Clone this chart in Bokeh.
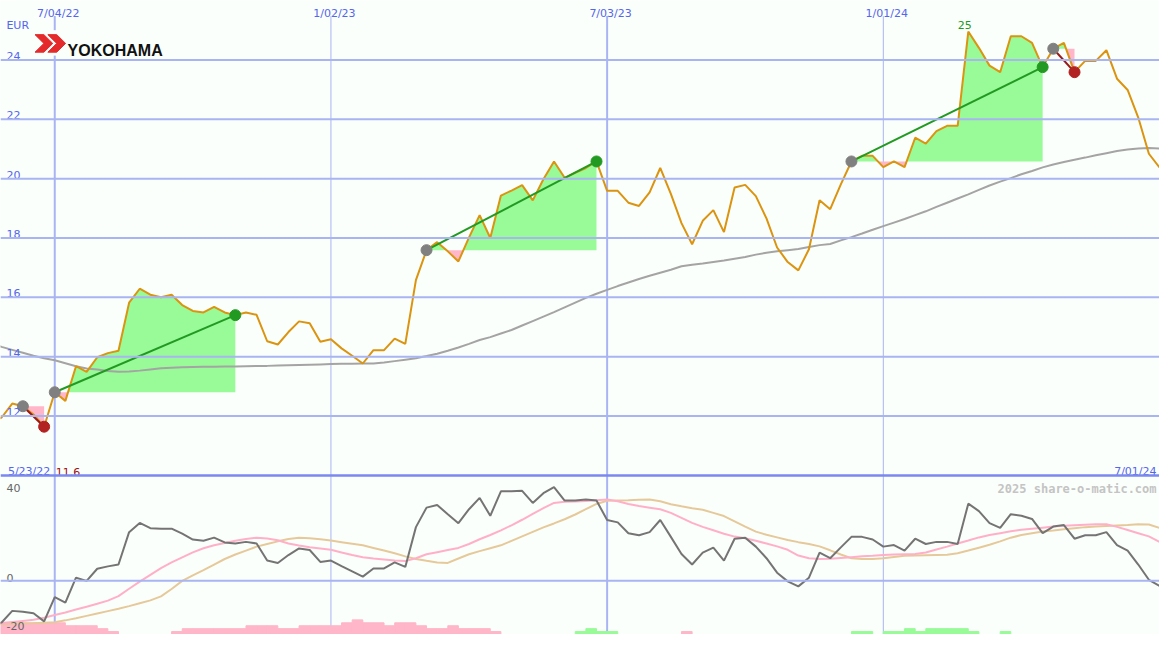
import numpy as np
from bokeh.plotting import figure
from bokeh.models import Span, Range1d, ColumnDataSource
from bokeh.embed import file_html
from bokeh.resources import INLINE
from bokeh.core.properties import value

# ---------------- data (weekly, week index relative to 7/04/22) ----------------
weeks = list(range(-6, 105))

price = [11.80, 11.95, 12.42, 12.33, 12.05, 11.64, 12.80, 12.51, 13.68, 13.49,
         13.98, 14.12, 14.20, 15.82, 16.29, 16.09, 16.00, 16.09, 15.74, 15.54,
         15.49, 15.68, 15.49, 15.40, 15.49, 15.41, 14.52, 14.41, 14.83, 15.19,
         15.13, 14.50, 14.59, 14.28, 14.03, 13.77, 14.22, 14.22, 14.61, 14.43,
         16.58, 17.59, 17.86, 17.55, 17.21, 18.02, 18.77, 18.00, 19.43, 19.60,
         19.78, 19.27, 19.98, 20.58, 20.03, 20.20, 20.36, 20.58, 19.59, 19.59,
         19.19, 19.08, 19.54, 20.36, 19.49, 18.50, 17.79, 18.58, 18.94, 18.20,
         19.70, 19.79, 19.41, 18.66, 17.68, 17.19, 16.91, 17.62, 19.27, 18.97,
         19.81, 20.58, 20.77, 20.77, 20.39, 20.58, 20.39, 21.38, 21.18, 21.60,
         21.78, 21.78, 24.96, 24.41, 23.81, 23.59, 24.80, 24.80, 24.58, 23.76,
         24.38, 24.58, 23.59, 23.97, 23.97, 24.33, 23.37, 22.99, 22.06, 20.84,
         20.38]

moving_avg = [14.45, 14.33, 14.23, 14.13, 14.03, 13.95, 13.88, 13.78, 13.68, 13.60,
              13.57, 13.52, 13.49, 13.50, 13.53, 13.57, 13.61, 13.63, 13.64, 13.65,
              13.66, 13.66, 13.67, 13.67, 13.68, 13.69, 13.69, 13.70, 13.71, 13.72,
              13.73, 13.74, 13.75, 13.76, 13.76, 13.77, 13.77, 13.80, 13.85, 13.90,
              13.95, 14.02, 14.10, 14.20, 14.31, 14.43, 14.56, 14.66, 14.78, 14.90,
              15.05, 15.20, 15.35, 15.50, 15.66, 15.82, 15.98, 16.12, 16.25, 16.38,
              16.50, 16.62, 16.73, 16.83, 16.93, 17.05, 17.10, 17.14, 17.19, 17.24,
              17.30, 17.36, 17.44, 17.50, 17.55, 17.59, 17.63, 17.70, 17.76, 17.80,
              17.92, 18.03, 18.15, 18.28, 18.40, 18.52, 18.64, 18.77, 18.90, 19.05,
              19.19, 19.33, 19.47, 19.62, 19.77, 19.90, 20.02, 20.15, 20.26, 20.38,
              20.48, 20.56, 20.64, 20.71, 20.79, 20.86, 20.93, 20.98, 21.02, 21.03,
              21.02]

momentum = [-16.5, -15.8, -11.4, -11.7, -12.3, -15.4, -6.2, -8.3, 1.2, 0.0,
            4.6, 5.5, 6.2, 18.5, 22.0, 20.0, 19.8, 19.8, 17.9, 15.7,
            15.2, 16.4, 14.6, 14.2, 14.8, 14.2, 7.7, 6.8, 9.8, 12.3,
            11.7, 7.2, 7.7, 5.6, 3.6, 1.6, 4.7, 4.7, 7.0, 5.3,
            20.4, 27.8, 28.8, 25.3, 21.9, 27.2, 31.5, 24.7, 34.0, 34.0,
            34.2, 29.6, 33.3, 35.6, 30.5, 30.5, 30.9, 30.5, 23.1, 22.2,
            18.1, 17.3, 18.5, 23.1, 16.7, 10.2, 6.2, 10.7, 12.6, 7.7,
            16.0, 16.4, 13.0, 8.6, 3.1, -0.2, -2.1, 1.2, 10.7, 8.6,
            12.7, 16.7, 16.7, 15.7, 13.0, 13.6, 11.5, 16.0, 14.0, 14.8,
            14.8, 14.0, 29.3, 26.5, 21.9, 20.1, 25.3, 24.7, 23.5, 18.1,
            20.6, 21.2, 16.0, 17.3, 17.3, 18.5, 13.6, 11.5, 6.2, 0.4,
            -1.9]

signal_fast = [-16.5, -16.0, -15.6, -15.2, -14.8, -14.0, -13.0, -12.0, -10.9, -9.8,
               -8.7, -7.5, -5.8, -3.0, -0.3, 2.3, 4.8, 7.0, 8.9, 10.8,
               12.4, 13.5, 14.4, 15.2, 15.9, 16.4, 16.1, 15.4, 14.2, 13.4,
               12.8, 12.3, 11.8, 10.8, 9.8, 9.0, 8.5, 8.1, 7.7, 7.5,
               8.6, 10.1, 10.9, 11.7, 12.5, 14.0, 15.8, 17.4, 19.2, 21.1,
               23.2, 25.4, 27.6, 29.6, 30.0, 30.1, 30.3, 30.6, 30.9, 30.2,
               29.2, 28.4, 27.8, 27.2, 25.8, 23.9, 22.0, 20.5, 19.2, 17.9,
               16.8, 16.2, 15.2, 14.2, 13.1, 11.8, 9.6, 8.6, 8.3, 8.4,
               8.7, 9.0, 9.3, 9.5, 9.8, 10.0, 10.1, 10.2, 10.8, 11.9,
               13.0, 14.2, 15.3, 16.5, 17.4, 18.1, 18.8, 19.4, 19.8, 20.2,
               20.6, 20.9, 21.1, 21.3, 21.5, 21.5, 20.5, 19.3, 18.1, 16.9,
               14.8]

signal_slow = [-16.5, -16.4, -16.3, -16.2, -16.1, -15.9, -15.7, -15.0, -14.2, -13.3,
               -12.4, -11.5, -10.6, -9.6, -8.5, -7.4, -5.9, -3.1, 0.0, 2.1,
               4.1, 6.2, 8.3, 10.0, 11.5, 13.0, 14.0, 15.0, 15.9, 16.4,
               16.2, 15.8, 15.3, 14.7, 14.1, 13.5, 12.5, 11.5, 10.5, 9.3,
               8.3, 7.6, 7.0, 6.8, 8.5, 10.1, 11.3, 12.4, 13.5, 15.2,
               16.9, 18.6, 20.3, 21.8, 23.4, 25.2, 27.2, 29.2, 30.4, 30.5,
               30.6, 30.8, 30.9, 30.2, 29.1, 28.3, 27.6, 27.0, 25.8, 24.6,
               22.6, 20.6, 18.7, 17.5, 16.5, 15.5, 14.7, 14.0, 13.1, 11.6,
               10.0, 8.6, 8.3, 8.3, 8.6, 9.1, 9.5, 9.6, 9.7, 9.8,
               9.9, 10.5, 11.5, 12.6, 13.7, 15.0, 16.4, 17.4, 18.1, 18.7,
               19.1, 19.6, 20.0, 20.4, 20.6, 20.8, 21.0, 21.2, 21.5, 21.4,
               20.1]

# histogram levels (negative = pink, positive = green)
hist_level = ([-4] * 7 + [-3] * 3 + [-2, -1] + [0] * 5 + [-1] + [-2] * 6 + [-3] * 3 +
              [-2] * 2 + [-3] * 4 + [-4, -5, -4, -4, -3, -4, -4, -3, -2, -2, -3, -2, -2, -2, -1] +
              [0] * 7 + [1, 2, 1, 1] + [0] * 6 + [-1] + [0] * 15 +
              [1, 1, 0, 1, 1, 2, 1, 2, 2, 2, 2, 1, 0, 0, 1] + [0] * 15)

# trend segments (start week, end week)
trends = [(-3, -1), (0, 17), (35, 51), (75, 93), (94, 96)]

date_weeks = [0, 26, 52, 78]
date_labels = ["7/04/22", "1/02/23", "7/03/23", "1/01/24"]
date_heavy = [True, False, True, False]
start_label = "5/23/22"
end_label = "7/01/24"
price_ticks = [12, 14, 16, 18, 20, 22, 24]
osc_ticks = [40, 0, -20]
currency = "EUR"
brand = "YOKOHAMA"
watermark = "2025 share-o-matic.com"

# ---------------- geometry helpers (reference pixel -> data) ----------------
PXW = 280.0 / 26.0          # px per week
PXE = 365.0 / 12.0          # px per EUR
PXO = 2.7                   # px per oscillator unit


def X(px):
    return (px - 55.0) / PXW


def Y(py):
    return 24.0 + (61.0 - py) / PXE


def Y2(py):
    return (595.0 - py) / PXO


W, H = 1159, 634

BG = "#FBFFFB"
GRID = "#A9B5F2"
SEP = "#7A88F0"
BLUE = "#5566EE"
ORANGE = "#DB9410"
MA_GRAY = "#A4A4A4"
GREEN_FILL = "#98FB98"
PINK_FILL = "#FFB6C8"
GREEN = "#229A22"
DARKRED = "#9A1A1A"
RED_DOT = "#B22222"
FONT = "DejaVu Sans"
OSC = "osc"

p = figure(width=W, height=H, x_range=Range1d(X(0), X(1175)), y_range=Range1d(Y(650), Y(0)),
           output_backend="svg", toolbar_location=None,
           x_axis_location=None, y_axis_location=None, min_border=0,
           background_fill_color=BG, border_fill_color=BG, outline_line_color=None)
p.grid.visible = False
p.extra_y_ranges = {OSC: Range1d(Y2(650), Y2(0))}


def txt(x, y, s, color, size="11px", align="left", font=FONT, style="normal", rng="default"):
    p.text(x=[x], y=[y], text=[s], text_color=color, text_font=value(font),
           text_font_size=size, text_align=align, text_baseline="alphabetic",
           text_font_style=style, y_range_name=rng)


def crossings(xs, ys, base):
    ox, oy = [xs[0]], [ys[0]]
    for i in range(1, len(xs)):
        a, b = ys[i - 1], ys[i]
        if (a - base) * (b - base) < 0:
            t = (base - a) / (b - a)
            ox.append(xs[i - 1] + t * (xs[i] - xs[i - 1]))
            oy.append(base)
        ox.append(xs[i])
        oy.append(ys[i])
    return np.array(ox), np.array(oy)


wk = np.array(weeks, dtype=float)
pr = np.array(price)
idx = {w: i for i, w in enumerate(weeks)}

# ---------------- grid ----------------
for t in price_ticks:
    p.add_layout(Span(location=t, dimension="width", line_color=GRID, line_width=2))
p.add_layout(Span(location=0, dimension="width", line_color=GRID, line_width=2, y_range_name=OSC))

vsrc = ColumnDataSource(dict(x=date_weeks, y0=[Y(650)] * 4, y1=[Y(16)] * 4,
                             lw=[2 if h else 1 for h in date_heavy]))
p.segment(x0="x", y0="y0", x1="x", y1="y1", line_width="lw", line_color=GRID, source=vsrc)

p.add_layout(Span(location=osc_ticks[0], dimension="width", line_color=SEP, line_width=2.5,
                  y_range_name=OSC))

# ---------------- price panel ----------------
for s, e in trends:
    i0, i1 = idx[s], idx[e]
    xs, ys = wk[i0:i1 + 1], pr[i0:i1 + 1]
    base = ys[0]
    fx, fy = crossings(xs, ys, base)
    p.varea(x=fx, y1=base, y2=np.maximum(fy, base), fill_color=GREEN_FILL)
    p.varea(x=fx, y1=base, y2=np.minimum(fy, base), fill_color=PINK_FILL)

p.line(wk, moving_avg, line_color=MA_GRAY, line_width=2)
p.line(wk, pr, line_color=ORANGE, line_width=2)

for s, e in trends:
    up = price[idx[e]] >= price[idx[s]]
    p.line([s, e], [price[idx[s]], price[idx[e]]], line_color=GREEN if up else DARKRED, line_width=2)
    p.scatter([s], [price[idx[s]]], size=11, color="#808080")
    p.scatter([e], [price[idx[e]]], size=11, color=GREEN if up else RED_DOT)

# logo
p.quad(left=X(33), right=X(166), bottom=Y(56), top=Y(31), color=BG)
for pts in ([(35, 35), (44, 35), (53, 44), (44, 53), (35, 53), (44, 44)],
            [(48, 35), (57, 35), (66, 44), (57, 53), (48, 53), (57, 44)]):
    p.patch([X(a) for a, b in pts], [Y(b) for a, b in pts], color="#E42A2A")
txt(X(68), Y(51), brand, "#111111", size="16px", font="Liberation Sans", style="bold")

# labels
txt(X(6), Y(25.3), currency, BLUE)
for t in price_ticks:
    txt(X(6), t + 4.0 / PXE, str(t), BLUE)
for w, lab in zip(date_weeks, date_labels):
    txt(w + 3.5 / PXW, Y(13.3), lab, BLUE, align="center")
imax = int(np.argmax(pr))
imin = int(np.argmin(pr))
txt(wk[imax] - 3.5 / PXW, pr[imax] + 6.5 / PXE, f"{pr[imax]:.0f}", GREEN, align="center")
txt(X(7.5), Y(483), start_label, BLUE)
txt(X(56), Y(483), f"{pr[imin]:.1f}", "#A01010")
txt(X(1172), Y(483), end_label, BLUE, align="right")

# ---------------- oscillator panel ----------------
ybot = Y2(650)
unit = 3.0 / PXO
hl = np.array(hist_level)
for sign, col in ((-1, PINK_FILL), (1, GREEN_FILL)):
    m = (np.sign(hl) == sign)
    p.quad(left=wk[m], right=wk[m] + 1, bottom=ybot, top=ybot + np.abs(hl[m]) * unit,
           color=col, y_range_name=OSC)

p.line(wk, signal_slow, line_color="#E6C99A", line_width=2, y_range_name=OSC)
p.line(wk, signal_fast, line_color="#FFB0C8", line_width=2, y_range_name=OSC)
p.line(wk, momentum, line_color="#747474", line_width=2, y_range_name=OSC)

for t, py in zip(osc_ticks, [499.5, 592.5, 641.0]):
    txt(X(6), Y2(py), str(t), "#666666", rng=OSC)
txt(X(1172), Y2(500.5), watermark, "#C4C4C4", size="12px",
    font="DejaVu Sans Mono", align="right", style="bold", rng=OSC)

open("out.html", "w").write(file_html(p, INLINE))
